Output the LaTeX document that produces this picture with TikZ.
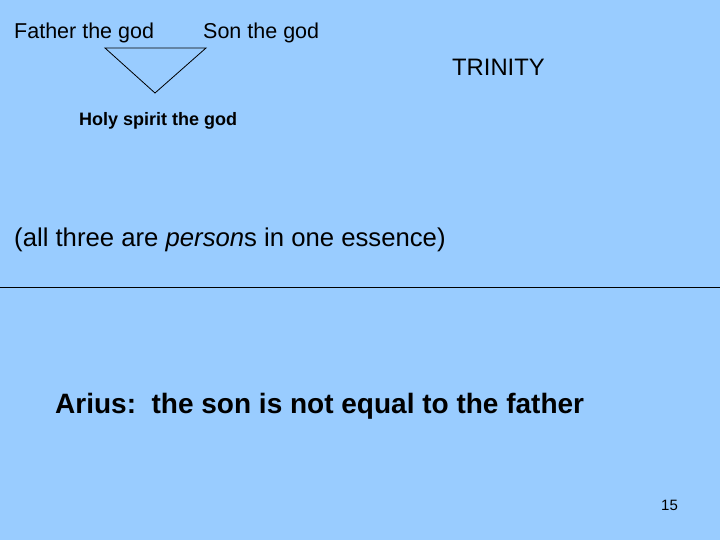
\documentclass[tikz,border=0pt]{standalone}
\usepackage{fontspec}
\setmainfont{Liberation Sans}
\definecolor{bgblue}{HTML}{99CCFF}
\begin{document}
\begin{tikzpicture}[x=1pt,y=-1pt,
  txt/.style={inner sep=0pt,anchor=west,text=black},
  thin line/.style={draw=black,line width=0.8pt}]
\fill[bgblue] (0,0) rectangle (720,540);
\useasboundingbox (0,0) rectangle (720,540);
\node[txt,font=\fontsize{21.5}{24}\selectfont] (father) at (14,33) {Father the god};
\node[txt,font=\fontsize{21.5}{24}\selectfont] (son) at (203,33) {Son the god};
\node[txt,font=\fontsize{23.8}{27}\selectfont] (trinity) at (452,67.5) {TRINITY};
\node[txt,font=\bfseries\fontsize{18}{21}\selectfont] (holy) at (79,121) {Holy spirit the god};
\node[txt,font=\fontsize{25.7}{29}\selectfont] (all) at (14,240) {(all three are \textit{person}s in one essence)};
\node[txt,font=\bfseries\fontsize{28}{32}\selectfont] (arius) at (55,406) {Arius:\ \ the son is not equal to the father};
\node[txt,font=\fontsize{15}{17}\selectfont] (num) at (661,505) {15};
\coordinate (t1) at (105,48);
\coordinate (t2) at (206,48);
\coordinate (t3) at (155,93);
\draw[thin line] (t1) -- (t2) -- (t3) -- cycle;
\coordinate (l1) at (0,287);
\coordinate (l2) at (720,287);
\draw[thin line] (l1) -- (l2);
\end{tikzpicture}
\end{document}
